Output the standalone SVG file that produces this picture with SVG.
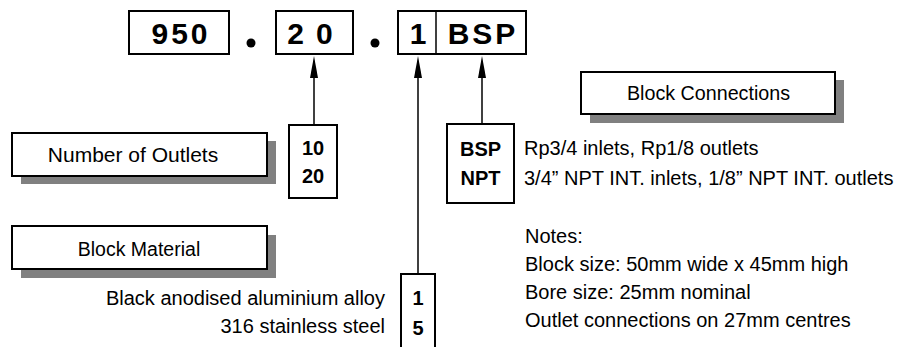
<svg xmlns="http://www.w3.org/2000/svg" width="907" height="347" viewBox="0 0 907 347">
<defs>
<style>
.box{fill:#fff;stroke:#000;stroke-width:2}
.shadow{fill:#808080}
.code{font-family:"Liberation Sans",Arial,sans-serif;font-weight:bold;font-size:30px;text-anchor:middle;letter-spacing:3px}
.opt{font-family:"Liberation Sans",Arial,sans-serif;font-weight:bold;font-size:20px;text-anchor:middle}
.lbl{font-family:"Liberation Sans",Arial,sans-serif;font-size:20px;text-anchor:middle}
.txt{font-family:"Liberation Sans",Arial,sans-serif;font-size:20px}
.line{stroke:#000;stroke-width:1.5;fill:none}
</style>
</defs>
<rect width="907" height="347" fill="#fff"/>
<g id="code">
<rect class="box" x="129" y="11" width="100" height="43"/>
<text class="code" x="181" y="44">950</text>
<circle cx="251" cy="43" r="4.5" fill="#000"/>
<rect class="box" x="276" y="11" width="77" height="43"/>
<text class="code" x="316" y="44" style="letter-spacing:12px">20</text>
<circle cx="375" cy="43" r="4.5" fill="#000"/>
<rect class="box" x="398" y="11" width="128" height="43"/>
<line x1="436" y1="11" x2="436" y2="54" stroke="#000" stroke-width="1.5"/>
<text class="code" x="418" y="44" style="letter-spacing:0">1</text>
<text class="code" x="483" y="44">BSP</text>
</g>
<g id="connectors">
<line class="line" x1="314" y1="70" x2="314" y2="125"/>
<polygon points="314,56 310,78 318,78"/>
<line class="line" x1="418" y1="70" x2="418" y2="274"/>
<polygon points="418,56 414,78 422,78"/>
<line class="line" x1="482" y1="70" x2="482" y2="124"/>
<polygon points="482,56 478,78 486,78"/>
</g>
<g id="number-of-outlets">
<rect class="shadow" x="21" y="141" width="255" height="43"/>
<rect class="box" x="12" y="133" width="255" height="43"/>
<text class="lbl" x="133" y="162" style="font-size:21px">Number of Outlets</text>
</g>
<g id="outlets-options">
<rect class="box" x="289" y="125" width="48" height="73"/>
<text class="opt" x="313" y="155">10</text>
<text class="opt" x="313" y="183">20</text>
</g>
<g id="block-material">
<rect class="shadow" x="21" y="235" width="255" height="43"/>
<rect class="box" x="12" y="226" width="255" height="43"/>
<text class="lbl" x="139" y="256" style="font-size:19.5px">Block Material</text>
</g>
<g id="material-options">
<rect class="box" x="401" y="274" width="34" height="90"/>
<text class="opt" x="418" y="305">1</text>
<text class="opt" x="418" y="335">5</text>
<text class="txt" x="385" y="305" text-anchor="end">Black anodised aluminium alloy</text>
<text class="txt" x="385" y="333" text-anchor="end">316 stainless steel</text>
</g>
<g id="block-connections">
<rect class="shadow" x="590" y="80" width="254" height="43"/>
<rect class="box" x="581" y="72" width="254" height="42"/>
<text class="lbl" x="708.5" y="100" style="font-size:19.7px">Block Connections</text>
</g>
<g id="connection-options">
<rect class="box" x="447" y="124" width="67" height="79"/>
<text class="opt" x="480.5" y="156">BSP</text>
<text class="opt" x="480.5" y="185">NPT</text>
<text class="txt" x="524" y="155">Rp3/4 inlets, Rp1/8 outlets</text>
<text class="txt" x="524" y="185">3/4” NPT INT. inlets, 1/8” NPT INT. outlets</text>
</g>
<g id="notes">
<text class="txt" x="525" y="243">Notes:</text>
<text class="txt" x="525" y="271">Block size: 50mm wide x 45mm high</text>
<text class="txt" x="525" y="299">Bore size: 25mm nominal</text>
<text class="txt" x="525" y="327">Outlet connections on 27mm centres</text>
</g>
</svg>
